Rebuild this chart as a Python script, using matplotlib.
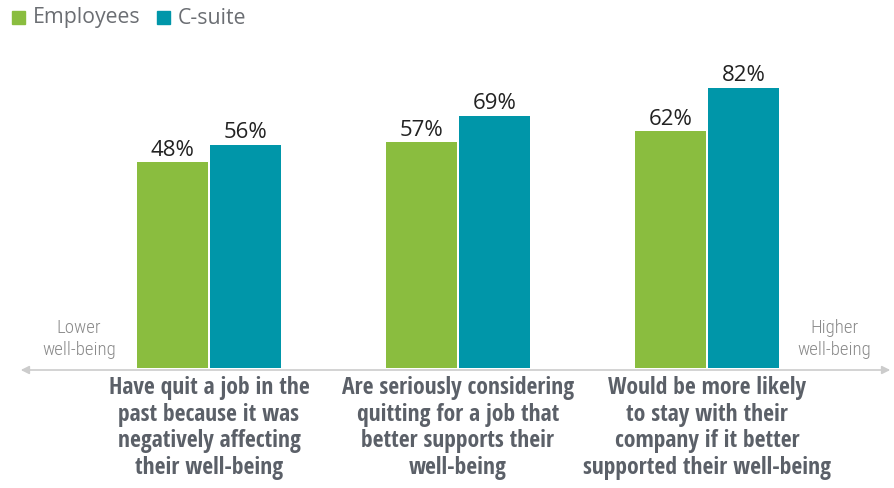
import matplotlib.pyplot as plt
from matplotlib.patches import FancyArrowPatch, Rectangle
import numpy as np

# --- data ---
CATEGORIES = [
    "Have quit a job in the\npast because it was\nnegatively affecting\ntheir well-being",
    "Are seriously considering\nquitting for a job that\nbetter supports their\nwell-being",
    "Would be more likely\nto stay with their\ncompany if it better\nsupported their well-being",
]
EMPLOYEES = [48, 57, 62]
CSUITE = [56, 69, 82]
SERIES_NAMES = ["Employees", "C-suite"]

GREEN = "#8abd3f"
TEAL = "#0096a9"
COND_BOLD = ["Open Sans Condensed", "DejaVu Sans"]
COND_LIGHT = ["Roboto Condensed", "DejaVu Sans"]

BASE = -45.5          # value at the bottom of the bars (axis is truncated)
PX_PER_PCT = 2.2

fig = plt.figure(figsize=(8.94, 4.88), dpi=100)
ax_bottom = 1 - 368 / 488
ax = fig.add_axes([0, ax_bottom, 1, 1 - ax_bottom])
top_val = BASE + 368 / PX_PER_PCT
ax.set_ylim(BASE, top_val)
ax.set_xlim(-209 / 249, (894 - 209) / 249)
ax.axis("off")

x = np.arange(len(CATEGORIES))
w = 71 / 249
off = 73 / 2 / 249
b1 = ax.bar(x - off, np.array(EMPLOYEES) - BASE, w, bottom=BASE, color=GREEN)
b2 = ax.bar(x + off, np.array(CSUITE) - BASE, w, bottom=BASE, color=TEAL)

for bars, vals in [(b1, EMPLOYEES), (b2, CSUITE)]:
    for b, v in zip(bars, vals):
        ax.text(b.get_x() + b.get_width() / 2, v + 0.8, f"{v}%", ha="center",
                va="bottom", fontsize=16, color="#222222", family="Open Sans")

# axis arrow
line_y = 1 - 370 / 488
fig.add_artist(FancyArrowPatch(
    (18 / 894, line_y), (893 / 894, line_y), transform=fig.transFigure,
    arrowstyle="<|-|>", mutation_scale=12, color="#cccccc", lw=1.2))

fig.text(79 / 894, 1 - 339 / 488, "Lower\nwell-being", ha="center", va="center",
         fontsize=13.5, color="#8a8a8a", family=COND_LIGHT, fontweight="light",
         linespacing=1.25)
fig.text(834 / 894, 1 - 339 / 488, "Higher\nwell-being", ha="center", va="center",
         fontsize=13.5, color="#8a8a8a", family=COND_LIGHT, fontweight="light",
         linespacing=1.25)

# category labels
for i, lab in enumerate(CATEGORIES):
    cx = ax.transData.transform((i, 0))[0] / 894
    fig.text(cx, 1 - 376 / 488, lab, ha="center", va="top", fontsize=17,
             fontweight="bold", color="#5b6068", family=COND_BOLD, linespacing=1.15)

# legend
for (sx, name, col) in [(12, SERIES_NAMES[0], GREEN), (157, SERIES_NAMES[1], TEAL)]:
    fig.add_artist(Rectangle((sx / 894, 1 - 24 / 488), 13 / 894, 13 / 488,
                             transform=fig.transFigure, color=col))
    fig.text((sx + 21) / 894, 1 - 18 / 488, name, ha="left", va="center",
             fontsize=15.3, color="#6b6e73", family="Open Sans")

fig.savefig("out.png", dpi=100)
